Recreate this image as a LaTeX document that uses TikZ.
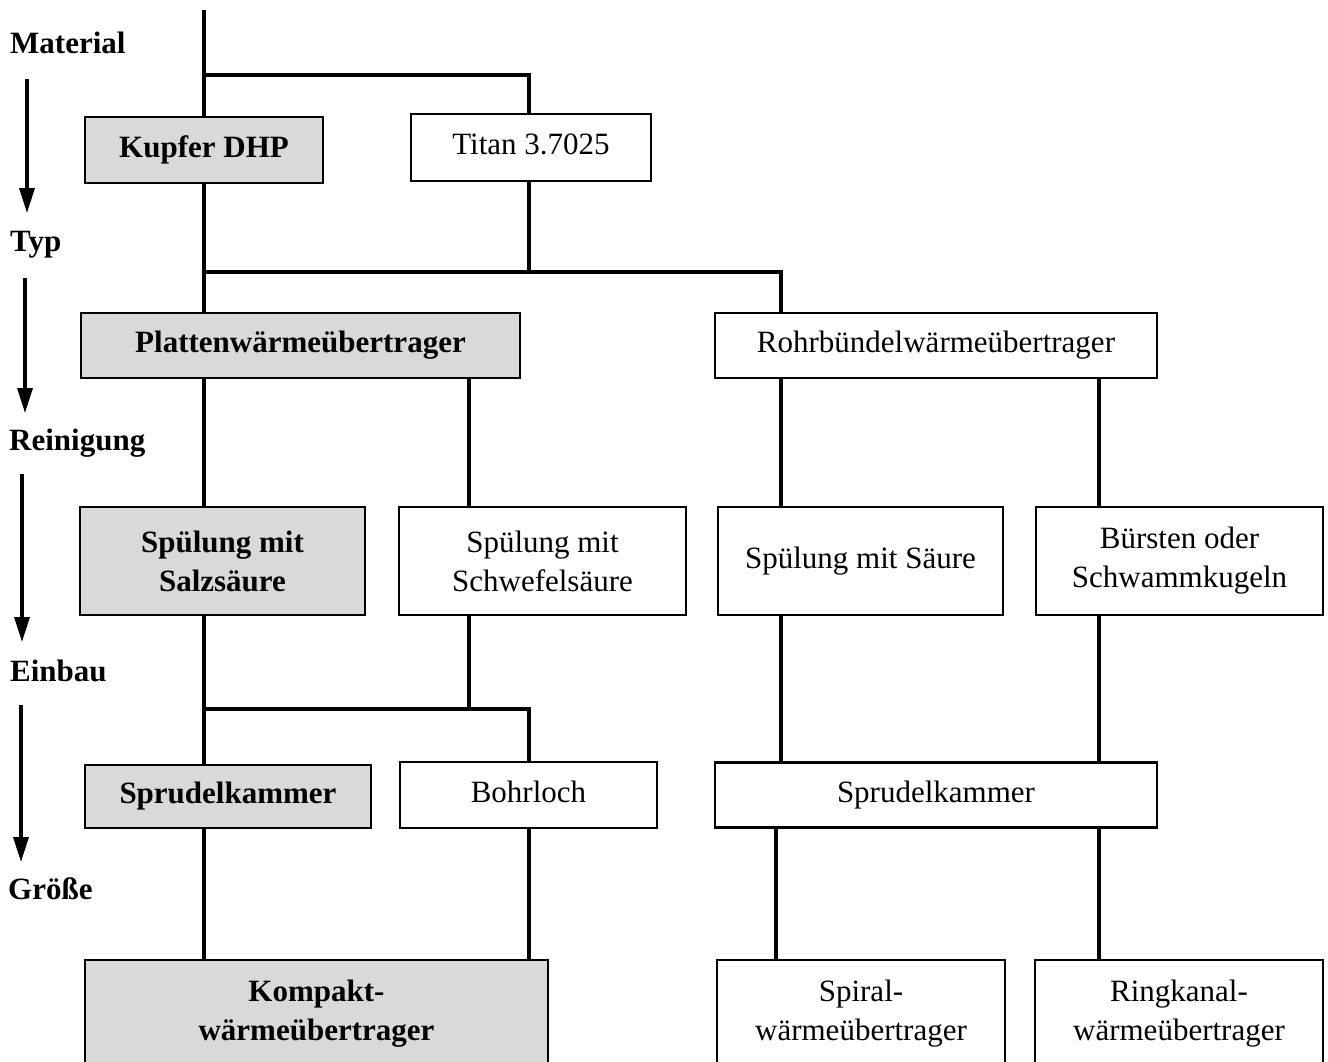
\documentclass[tikz,border=0pt]{standalone}
\usepackage{fontspec}
\setmainfont{Liberation Serif}
\usetikzlibrary{arrows.meta}
\definecolor{boxgray}{RGB}{217,217,217}
\begin{document}
\begin{tikzpicture}[x=1pt,y=-1pt,
  box/.style={draw, line width=2.8pt, align=center, inner sep=0pt, fill=white,
    font=\fontsize{31}{39}\selectfont},
  gbox/.style={box, fill=boxgray, font=\fontsize{31}{39}\selectfont\bfseries},
  oneline/.style={text height=22pt, text depth=8pt},
  conn/.style={line width=3.5pt},
  lvl/.style={anchor=base west, inner sep=0pt, font=\fontsize{31}{39}\selectfont\bfseries},
  lvlarrow/.style={line width=3.5pt, -{Triangle[width=15pt,length=25pt]}}]
\useasboundingbox (0,0) rectangle (1328,1061);
% x positions of vertical connectors
\coordinate (xa) at (204,0);
\coordinate (xb) at (469,0);
\coordinate (xc) at (529,0);
\coordinate (xd) at (781,0);
\coordinate (xe) at (1099,0);
\coordinate (xf) at (776,0);
% junctions
\coordinate (top) at (204,10);
\coordinate (j1a) at (204,75);
\coordinate (j1b) at (529,75);
\coordinate (j2a) at (204,272);
\coordinate (j2b) at (529,272);
\coordinate (j2c) at (781,272);
\coordinate (j3a) at (204,709);
\coordinate (j3b) at (469,709);
\coordinate (j3c) at (529,709);

% boxes
\node[gbox, oneline, minimum width=238pt, minimum height=66pt] (kupfer) at (204,150) {Kupfer DHP};
\node[box, oneline, minimum width=240pt, minimum height=67pt] (titan) at (531,147.5) {Titan 3.7025};
\node[gbox, oneline, minimum width=439pt, minimum height=65pt] (platten) at (300.5,345.5) {Plattenwärmeübertrager};
\node[box, oneline, minimum width=442pt, minimum height=65pt] (rohr) at (936,345.5) {Rohrbündelwärmeübertrager};
\node[gbox, minimum width=285pt, minimum height=108pt] (salz) at (222.5,561) {Spülung mit\\Salzsäure};
\node[box, minimum width=287pt, minimum height=108pt] (schwefel) at (542.5,561) {Spülung mit\\Schwefelsäure};
\node[box, oneline, minimum width=285pt, minimum height=108pt] (saeure) at (860.5,561) {Spülung mit Säure};
\node[box, minimum width=287pt, minimum height=108pt] (buersten) at (1179.5,561) {Bürsten oder\\Schwammkugeln};
\node[gbox, oneline, minimum width=286pt, minimum height=63pt] (sprudelL) at (228,796.5) {Sprudelkammer};
\node[box, oneline, minimum width=257pt, minimum height=66pt] (bohrloch) at (528.5,795) {Bohrloch};
\node[box, oneline, minimum width=442pt, minimum height=65pt] (sprudelR) at (936,795) {Sprudelkammer};
\node[gbox, minimum width=463pt, minimum height=108pt] (kompakt) at (316.5,1014) {Kompakt-\\wärmeübertrager};
\node[box, minimum width=288pt, minimum height=108pt] (spiral) at (861,1014) {Spiral-\\wärmeübertrager};
\node[box, minimum width=288pt, minimum height=108pt] (ring) at (1179,1014) {Ringkanal-\\wärmeübertrager};

% connectors
\draw[conn] (top) -- (kupfer.north);
\draw[conn] (j1a) -- (j1b) -- (xc |- titan.north);
\draw[conn] (kupfer.south) -- (j2a) -- (xa |- platten.north);
\draw[conn] (xc |- titan.south) -- (j2b);
\draw[conn] (j2a) -- (j2c) -- (xd |- rohr.north);
\draw[conn] (xa |- platten.south) -- (xa |- salz.north);
\draw[conn] (xb |- platten.south) -- (xb |- schwefel.north);
\draw[conn] (xd |- rohr.south) -- (xd |- saeure.north);
\draw[conn] (xe |- rohr.south) -- (xe |- buersten.north);
\draw[conn] (xa |- salz.south) -- (xa |- sprudelL.north);
\draw[conn] (xb |- schwefel.south) -- (j3b);
\draw[conn] (j3a) -- (j3c) -- (xc |- bohrloch.north);
\draw[conn] (xd |- saeure.south) -- (xd |- sprudelR.north);
\draw[conn] (xe |- buersten.south) -- (xe |- sprudelR.north);
\draw[conn] (xa |- sprudelL.south) -- (xa |- kompakt.north);
\draw[conn] (xc |- bohrloch.south) -- (xc |- kompakt.north);
\draw[conn] (xf |- sprudelR.south) -- (xf |- spiral.north);
\draw[conn] (xe |- sprudelR.south) -- (xe |- ring.north);

% level labels and arrows
\node[lvl] (lmat) at (10,53) {Material};
\node[lvl] (ltyp) at (10,251) {Typ};
\node[lvl] (lrein) at (9,450) {Reinigung};
\node[lvl] (lein) at (10,681) {Einbau};
\node[lvl] (lgr) at (8,899) {Größe};
\coordinate (a1s) at (27,79);  \coordinate (a1e) at (27,213);
\coordinate (a2s) at (25,278); \coordinate (a2e) at (25,413);
\coordinate (a3s) at (22,474); \coordinate (a3e) at (22,642);
\coordinate (a4s) at (21,705); \coordinate (a4e) at (21,862);
\draw[lvlarrow] (a1s) -- (a1e);
\draw[lvlarrow] (a2s) -- (a2e);
\draw[lvlarrow] (a3s) -- (a3e);
\draw[lvlarrow] (a4s) -- (a4e);
\end{tikzpicture}
\end{document}
